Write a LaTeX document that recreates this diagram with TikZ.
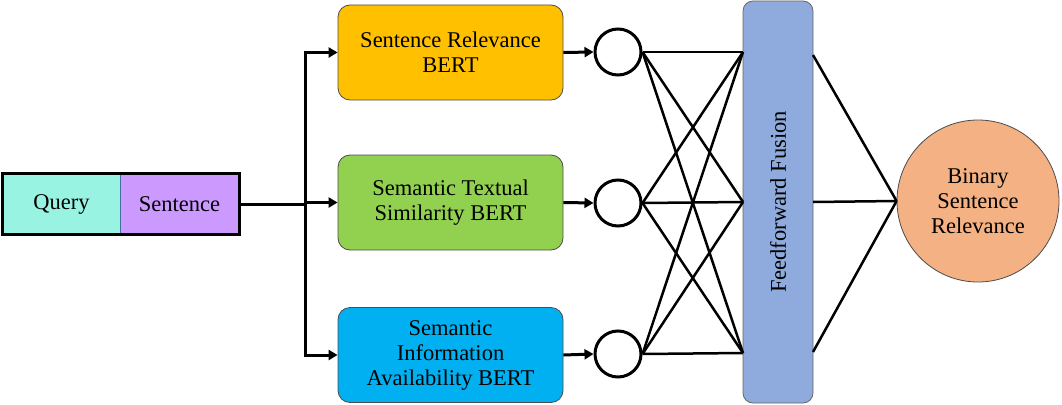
\documentclass[tikz,border=0pt]{standalone}
\usepackage{fontspec}
\setmainfont{Liberation Serif}
\usetikzlibrary{arrows.meta,positioning}
\definecolor{cQuery}{HTML}{99F3E2}
\definecolor{cSent}{HTML}{CC99FF}
\definecolor{cOrange}{HTML}{FFC000}
\definecolor{cGreen}{HTML}{92D050}
\definecolor{cBlue}{HTML}{00B0F0}
\definecolor{cFuse}{HTML}{8FAADC}
\definecolor{cOut}{HTML}{F4B183}
\definecolor{cEdge}{HTML}{41719C}
\tikzset{
  txt/.style={font=\fontsize{22.5}{25}\selectfont, align=center, text=black},
  model/.style={txt, draw=black!70, line width=0.8pt, rounded corners=12pt, minimum width=225pt, minimum height=95pt, inner sep=0pt},
  inbox/.style={txt, minimum height=60pt, inner sep=0pt},
  neuron/.style={circle, draw=black, line width=3pt, minimum size=46pt, inner sep=0pt},
  arr/.style={line width=3pt, -{Triangle[length=9pt,width=10pt]}},
  link/.style={line width=2.5pt},
}
\begin{document}
\begin{tikzpicture}[x=1pt,y=-1pt]
\useasboundingbox (0,0) rectangle (1062,404);
% input
\node[inbox, fill=cQuery, minimum width=117pt] (q) at (61.5,204) {Query};
\node[inbox, fill=cSent, minimum width=119pt] (s) at (179.5,204) {Sentence};
\draw[cEdge, line width=1pt] (q.north east) -- (q.south east);
\draw[line width=3pt] (q.north west) rectangle (s.south east);
% models
\node[model, fill=cOrange] (m1) at (450.5,52.5) {Sentence Relevance\\BERT};
\node[model, fill=cGreen] (m2) at (450.5,202.5) {Semantic Textual\\Similarity BERT};
\node[model, fill=cBlue] (m3) at (450.5,355) {Semantic\\Information\\Availability BERT};
% split
\coordinate (split) at (305,204);
\draw[line width=3pt] (s.east) -- (split);
\draw[arr] (split) |- (m1.west);
\draw[arr] (split) |- (m3.west);
\draw[arr] (split) -- (split |- m2.west) -- (m2.west);
% neurons
\node[neuron] (n1) at (618,52) {};
\node[neuron] (n2) at (618,203) {};
\node[neuron] (n3) at (618,354) {};
\draw[arr] (m1.east) -- (n1.west);
\draw[arr] (m2.east) -- (n2.west);
\draw[arr] (m3.east) -- (n3.west);
% fusion
\node[txt, draw=black!60, line width=0.8pt, fill=cFuse, rounded corners=10pt, minimum width=70pt, minimum height=402pt, inner sep=0pt] (f) at (778,202) {};
\node[txt, rotate=90] (ft) at (f.center) {Feedforward Fusion};
\coordinate (fl1) at (743,52);
\coordinate (fl2) at (743,202);
\coordinate (fl3) at (743,353);
\coordinate (fr1) at (813,55);
\coordinate (fr2) at (813,202);
\coordinate (fr3) at (813,352);
\foreach \i in {1,2,3}{
  \foreach \j in {1,2,3}{
    \draw[link] (n\i.east) -- (fl\j);
  }
}
% output
\node[txt, circle, draw=black!70, line width=0.8pt, fill=cOut, minimum size=162pt, inner sep=0pt] (o) at (978,201) {Binary\\Sentence\\Relevance};
\foreach \j in {1,2,3}{
  \draw[link] (fr\j) -- (o.west);
}
\end{tikzpicture}
\end{document}
